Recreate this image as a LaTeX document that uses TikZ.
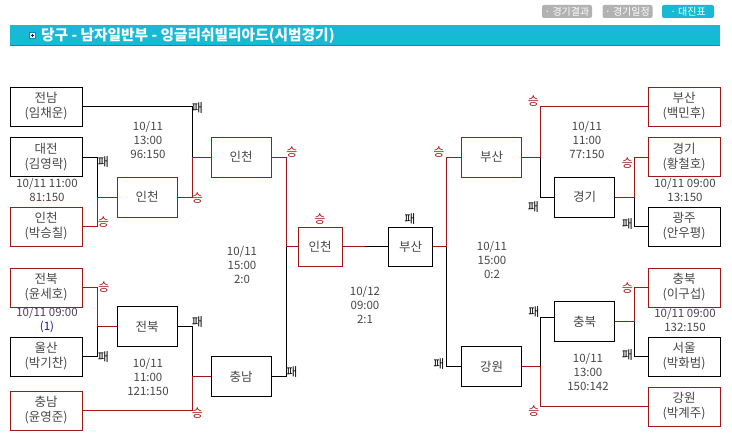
\documentclass[tikz,border=0pt]{standalone}
\usepackage{fontspec}
\setmainfont{Noto Sans CJK KR}
\definecolor{wred}{RGB}{165,22,22}
\definecolor{txt}{RGB}{70,70,70}
\definecolor{bar}{RGB}{23,186,212}
\definecolor{baredge}{RGB}{18,140,160}
\definecolor{btn}{RGB}{178,178,178}
\definecolor{navy}{RGB}{20,20,140}

\begin{document}
\begin{tikzpicture}[x=1pt,y=-1pt,
  team/.style={draw,line width=0.9pt,minimum width=72pt,minimum height=39pt,inner sep=0pt,
    align=center,text=txt,font=\fontsize{12.5}{15}\selectfont},
  wteam/.style={team,draw=wred},
  game/.style={team,minimum width=60pt,minimum height=40pt},
  wgame/.style={game,draw=wred},
  fgame/.style={team,minimum width=44pt},
  wfgame/.style={fgame,draw=wred},
  info/.style={align=center,text=txt,inner sep=0pt,font=\fontsize{11.5}{14}\selectfont},
  winmk/.style={text=wred,inner sep=0pt,font=\fontsize{12}{12}\selectfont},
  losemk/.style={text=black,inner sep=0pt,font=\fontsize{12}{12}\selectfont},
  winln/.style={draw=wred,line width=0.9pt},
  loseln/.style={draw=black,line width=0.9pt},
  tab/.style={fill=btn,rounded corners=2pt,minimum width=50pt,minimum height=13pt,inner sep=0pt,
    text=white,font=\fontsize{10}{10}\selectfont}]
\useasboundingbox (0,0) rectangle (732,443);

% header
\node[tab] (tabres) at (567,11.5) {· 경기결과};
\node[tab] (tabsched) at (627.5,11.5) {· 경기일정};
\node[tab,fill=bar,minimum width=52pt] (tabdraw) at (688,11.5) {· 대진표};
\fill[bar] (10,25) rectangle (720,46);
\draw[baredge] (10,45.5) -- (720,45.5);
\filldraw[fill=white,draw=baredge,line width=0.5pt] (29.5,32.5) rectangle (35,38);
\draw[navy,line width=0.6pt] (30.8,35.25) -- (33.7,35.25) (32.25,33.8) -- (32.25,36.7);
\node[anchor=west,text=white,inner sep=0pt,font=\fontsize{14.7}{15}\selectfont\bfseries] (title) at (41,35.5)
  {당구 - 남자일반부 - 잉글리쉬빌리아드(시범경기)};

% left entries
\node[team] (jeonnam) at (46,106.5) {전남\\(임채운)};
\node[team] (daejeon) at (46,157) {대전\\(김영락)};
\node[wteam] (incheonA) at (46,226.5) {인천\\(박승칠)};
\node[wteam] (jeonbukA) at (46,287.5) {전북\\(윤세호)};
\node[team] (ulsan) at (46,356.5) {울산\\(박기찬)};
\node[wteam] (chungnamA) at (46,410.5) {충남\\(윤영준)};
\node[wgame] (incheonR1) at (147,197) {인천};
\node[game] (jeonbukR1) at (147,326.5) {전북};
\node[wgame] (incheonR2) at (241,157) {인천};
\node[game] (chungnamR2) at (241,376.5) {충남};
\node[wfgame] (incheonSF) at (320,246.5) {인천};

% final
\node[fgame] (busanF) at (410.5,246.5) {부산};

% right entries
\node[wgame] (busanR2) at (491.5,157) {부산};
\node[game] (gangwonR2) at (491.5,366.5) {강원};
\node[game] (gyeonggiR1) at (584.5,197) {경기};
\node[game] (chungbukR1) at (584.5,321.5) {충북};
\node[wteam] (busanA) at (684,106.5) {부산\\(백민후)};
\node[wteam] (gyeonggiA) at (684,157) {경기\\(황철호)};
\node[team] (gwangju) at (684,226.5) {광주\\(안우평)};
\node[wteam] (chungbukA) at (684,287.5) {충북\\(이구섭)};
\node[team] (seoul) at (684,356.5) {서울\\(박화범)};
\node[wteam] (gangwonA) at (684,406.5) {강원\\(박계주)};

% dates and scores
\node[info] (infoA) at (47,190) {10/11 11:00\\81:150};
\node[info] (infoB) at (148,140) {10/11\\13:00\\96:150};
\node[info] (infoC) at (47,320) {10/11 09:00\\{\color{navy}(1)}};
\node[info] (infoD) at (148,377) {10/11\\11:00\\121:150};
\node[info] (infoE) at (242,265) {10/11\\15:00\\2:0};
\node[info] (infoF) at (365,305) {10/12\\09:00\\2:1};
\node[info] (infoG) at (492,260) {10/11\\15:00\\0:2};
\node[info] (infoH) at (587,140) {10/11\\11:00\\77:150};
\node[info] (infoI) at (685,190) {10/11 09:00\\13:150};
\node[info] (infoJ) at (685,320) {10/11 09:00\\132:150};
\node[info] (infoK) at (588,372) {10/11\\13:00\\150:142};

% junctions
\coordinate (ja) at (97,197);
\coordinate (jb) at (192,157);
\coordinate (jc) at (97,326.5);
\coordinate (jd) at (192,376.5);
\coordinate (je) at (286,246.5);
\coordinate (jf) at (365,246.5);
\coordinate (jg) at (446,246.5);
\coordinate (jh) at (540,157);
\coordinate (ji) at (634,197);
\coordinate (jj) at (540,366.5);
\coordinate (jk) at (634,321.5);

% left bracket
\draw[loseln] (daejeon.east) -| (ja);
\draw[winln] (incheonA.east) -| (ja) -- (incheonR1.west);
\draw[loseln] (jeonnam.east) -| (jb);
\draw[winln] (incheonR1.east) -| (jb) -- (incheonR2.west);
\draw[loseln] (ulsan.east) -| (jc);
\draw[winln] (jeonbukA.east) -| (jc) -- (jeonbukR1.west);
\draw[loseln] (jeonbukR1.east) -| (jd);
\draw[winln] (chungnamA.east) -| (jd) -- (chungnamR2.west);
\draw[loseln] (chungnamR2.east) -| (je);
\draw[winln] (incheonR2.east) -| (je) -- (incheonSF.west);

% final
\draw[winln] (incheonSF.east) -- (jf);
\draw[loseln] (jf) -- (busanF.west);

% right bracket
\draw[loseln] (gangwonR2.west) -| (jg);
\draw[winln] (busanR2.west) -| (jg) -- (busanF.east);
\draw[loseln] (gyeonggiR1.west) -| (jh);
\draw[winln] (busanA.west) -| (jh) -- (busanR2.east);
\draw[loseln] (gwangju.west) -| (ji);
\draw[winln] (gyeonggiA.west) -| (ji) -- (gyeonggiR1.east);
\draw[loseln] ([yshift=4.5pt]chungbukR1.west) -| (jj);
\draw[winln] (gangwonA.west) -| (jj) -- (gangwonR2.east);
\draw[loseln] (seoul.west) -| (jk);
\draw[winln] (chungbukA.west) -| (jk) -- (chungbukR1.east);

% win / loss marks
\node[losemk] (l1) at (103.5,162) {패};
\node[winmk] (w1) at (103.5,222) {승};
\node[losemk] (l2) at (197.5,108.5) {패};
\node[winmk] (w2) at (197.5,198.5) {승};
\node[winmk] (w3) at (104,287) {승};
\node[losemk] (l3) at (103.5,357) {패};
\node[losemk] (l4) at (197.5,322) {패};
\node[winmk] (w4) at (197.5,413.5) {승};
\node[winmk] (w5) at (292,152) {승};
\node[losemk] (l5) at (292,372) {패};
\node[winmk] (w6) at (320,219.5) {승};
\node[losemk] (l6) at (410,219) {패};
\node[winmk] (w7) at (439,152) {승};
\node[losemk] (l7) at (439,364) {패};
\node[winmk] (w8) at (533.5,101) {승};
\node[losemk] (l8) at (533.5,207) {패};
\node[losemk] (l9) at (534,312.5) {패};
\node[winmk] (w9) at (534,411) {승};
\node[winmk] (w10) at (627.5,163) {승};
\node[losemk] (l10) at (627.5,224) {패};
\node[winmk] (w11) at (627.5,288) {승};
\node[losemk] (l11) at (627.5,355) {패};
\end{tikzpicture}
\end{document}
